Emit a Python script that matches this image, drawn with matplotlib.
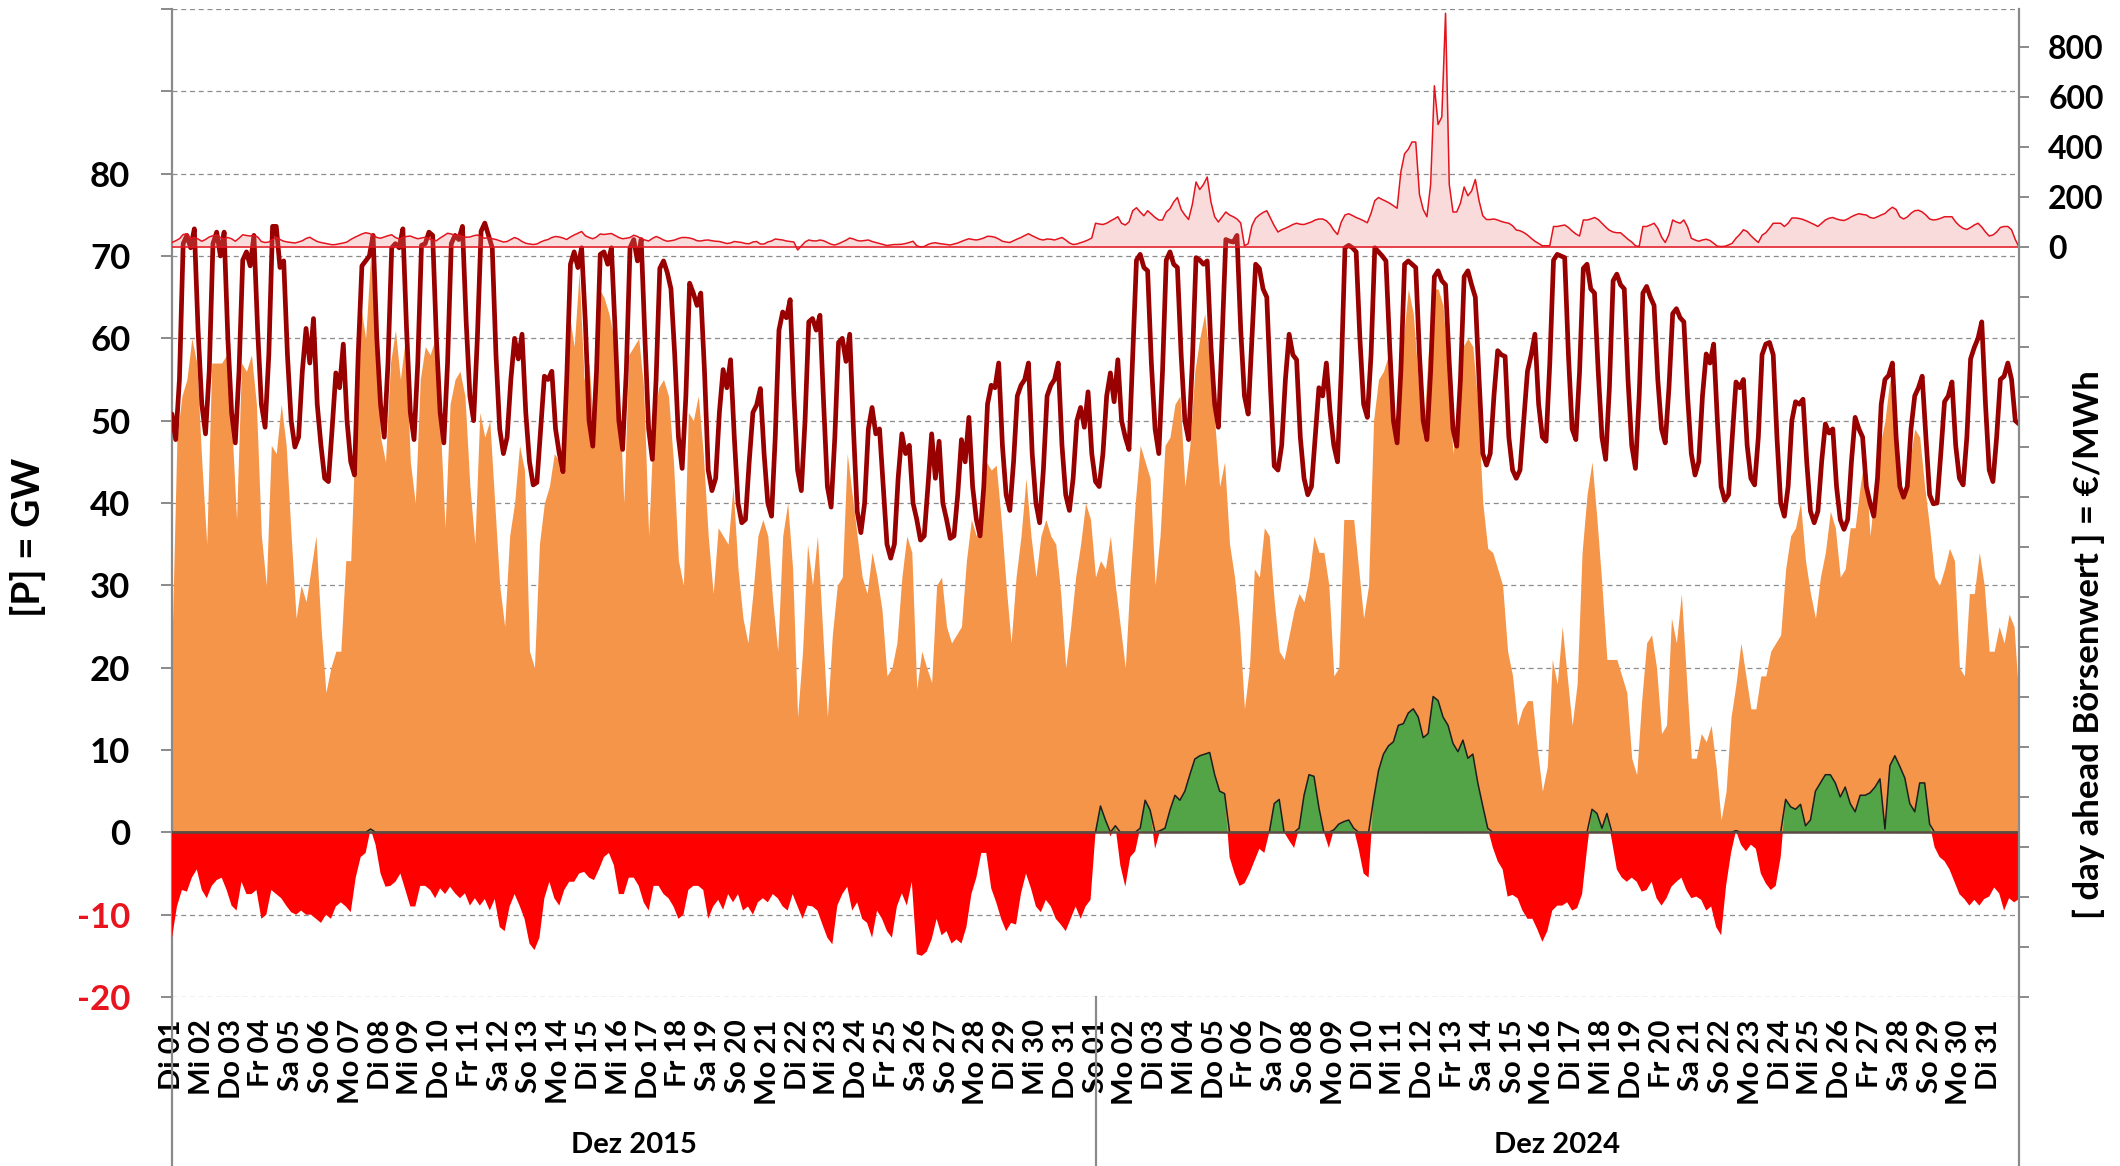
import numpy as np
import matplotlib
matplotlib.use("Agg")
import matplotlib.pyplot as plt
from matplotlib.ticker import FixedLocator, FixedFormatter

plt.rcParams['font.family'] = ['Lato', 'DejaVu Sans']
plt.rcParams['font.weight'] = 'bold'

# ---------------- categories ----------------
months = ['Dez 2015', 'Dez 2024']
days_2015 = ['Di 01', 'Mi 02', 'Do 03', 'Fr 04', 'Sa 05', 'So 06', 'Mo 07', 'Di 08', 'Mi 09', 'Do 10',
             'Fr 11', 'Sa 12', 'So 13', 'Mo 14', 'Di 15', 'Mi 16', 'Do 17', 'Fr 18', 'Sa 19', 'So 20',
             'Mo 21', 'Di 22', 'Mi 23', 'Do 24', 'Fr 25', 'Sa 26', 'So 27', 'Mo 28', 'Di 29', 'Mi 30', 'Do 31']
days_2024 = ['So 01', 'Mo 02', 'Di 03', 'Mi 04', 'Do 05', 'Fr 06', 'Sa 07', 'So 08', 'Mo 09', 'Di 10',
             'Mi 11', 'Do 12', 'Fr 13', 'Sa 14', 'So 15', 'Mo 16', 'Di 17', 'Mi 18', 'Do 19', 'Fr 20',
             'Sa 21', 'So 22', 'Mo 23', 'Di 24', 'Mi 25', 'Do 26', 'Fr 27', 'Sa 28', 'So 29', 'Mo 30', 'Di 31']
day_labels = days_2015 + days_2024

# ---------------- series ----------------
# Last (load) in GW, 3-hourly values per day (00,03,...,21 h) + closing value
load_gw = [
    [50.8, 47.7, 55, 71.5, 72.5, 71, 73.3, 61], [52, 48.4, 56, 71.5, 72.9, 70, 72.9, 60],
    [51, 47.3, 56, 69.5, 70.5, 68.8, 72.5, 61], [52, 49.2, 58, 73.6, 73.6, 68.6, 69.4, 58],
    [50, 46.8, 48, 56, 61.2, 57, 62.4, 52], [47, 43, 42.6, 49, 55.8, 54, 59.3, 50],
    [45, 43.4, 58, 68.8, 69.4, 70, 72.5, 60], [52, 48, 57, 71, 71.5, 71, 73.3, 61],
    [51, 47.7, 57, 71.3, 71.5, 72.9, 72.5, 60], [51, 47.3, 57, 71.5, 72.5, 72, 73.6, 62],
    [53, 50, 60, 73, 74, 72.5, 71, 58], [49, 46, 48, 55, 60, 57.5, 60.5, 51],
    [45, 42.2, 42.5, 49, 55.4, 55, 56, 49], [46, 43.8, 55, 69, 70.5, 68.6, 71, 62],
    [50, 46.9, 56, 70.2, 70.5, 69, 71, 61], [50, 46.5, 56, 71, 72, 69.4, 72, 60],
    [49, 45.3, 55, 68.5, 69.4, 68, 66, 58], [48, 44.2, 53, 66.7, 65.5, 64, 65.5, 56],
    [44, 41.5, 43, 51, 56.2, 54, 57.4, 48], [40, 37.6, 38, 45, 51, 51.9, 53.9, 46],
    [40, 38.4, 48, 61, 63.2, 62.5, 64.7, 53], [44, 41.5, 50, 62, 62.4, 61, 62.8, 52],
    [42, 39.5, 48, 59.5, 60, 57.2, 60.5, 49], [39, 36.4, 40, 49, 51.6, 48.4, 49, 42],
    [35, 33.3, 35, 43, 48.4, 46, 47, 40], [38, 35.5, 36, 42, 48.4, 43, 47.5, 40],
    [38, 35.7, 36, 41, 47.7, 45, 50.4, 42], [38, 36, 42, 52, 54.3, 54, 57, 47],
    [41, 39.1, 45, 53, 54.3, 55, 57, 46], [40, 37.6, 44, 53, 54.3, 55, 57, 47],
    [41, 39.1, 43, 50, 51.6, 49.2, 53.5, 46],
    [42.6, 42, 46, 53, 55.8, 52.3, 57.4, 50], [48, 46.5, 58, 69.5, 70.2, 68.6, 68.2, 57],
    [49, 46, 56, 69.5, 70.5, 69, 68.6, 58], [50, 47.7, 57, 69.8, 69.5, 69, 69.4, 59],
    [52, 49.2, 60, 72, 71.8, 71.7, 72.5, 61], [53, 50.8, 60, 69, 68.5, 66, 65, 54],
    [44.5, 44, 47, 55, 60.5, 58, 57.4, 48], [43, 41, 42, 48, 54, 53, 57, 51],
    [47, 45, 56, 71, 71.3, 71, 70.5, 60], [52, 50.4, 58, 71, 70.5, 70, 69.4, 59],
    [50, 47.3, 56, 69, 69.4, 69, 68.6, 58], [50, 47.7, 56, 67.5, 68.2, 67, 66.5, 57],
    [49, 46.9, 55, 67.5, 68.2, 66.5, 65, 55], [46, 44.6, 46, 53, 58.5, 58, 57.8, 48],
    [44, 43, 44, 50, 56, 58, 60.5, 52], [48, 47.5, 57, 69.5, 70.2, 70, 69.8, 58],
    [49, 47.7, 56, 68.5, 69, 66, 65.5, 56], [48, 45.3, 54, 67, 67.8, 66.5, 66, 55],
    [47, 44.2, 53, 65.5, 66.3, 65, 64, 55], [49, 47.3, 54, 63, 63.6, 62.5, 62, 53],
    [46, 43.4, 45, 53, 58.1, 57, 59.3, 50], [42, 40.3, 41, 48, 54.7, 54, 55, 47],
    [43, 42.2, 48, 58, 59.3, 59.5, 58, 48], [40, 38.4, 42, 50, 52.3, 52, 52.6, 45],
    [39, 37.6, 39, 45, 49.6, 48.5, 49, 42], [38, 36.8, 38, 45, 50.4, 49, 48, 42],
    [40, 38.4, 43, 52, 55, 55.5, 57, 48], [42, 40.7, 42, 49, 53, 54, 55.4, 48],
    [41, 39.9, 40, 46, 52.3, 53, 54.7, 47], [43, 42.2, 48, 57.5, 58.9, 60, 62, 52],
    [44, 42.6, 48, 55, 55.4, 57, 55, 50],
]
load_end = 49.6

# Day-ahead price in EUR/MWh, 3-hourly values per day + closing value
price_eur = [
    [18, 25, 33, 50, 52, 33, 38, 32], [23, 30, 40, 45, 48, 38, 32, 38],
    [33, 23, 35, 49, 46, 44, 47, 40], [22, 18, 20, 30, 39, 30, 23, 20],
    [18, 16, 20, 25, 34, 39, 30, 22], [18, 15, 12, 9, 10, 13, 16, 20],
    [30, 38, 45, 52, 57, 54, 48, 38], [35, 40, 45, 49, 38, 32, 38, 42],
    [44, 38, 33, 36, 39, 33, 28, 25], [36, 45, 55, 52, 46, 48, 42, 39],
    [40, 45, 48, 40, 35, 38, 33, 30], [25, 20, 22, 30, 38, 32, 22, 15],
    [12, 10, 12, 20, 26, 30, 38, 42], [40, 36, 30, 40, 48, 55, 62, 45],
    [38, 33, 40, 52, 50, 52, 54, 46], [38, 33, 35, 38, 47, 42, 33, 28],
    [24, 34, 42, 36, 28, 23, 25, 28], [34, 38, 38, 36, 32, 25, 24, 27],
    [28, 25, 23, 22, 18, 14, 16, 22], [20, 18, 14, 13, 20, 22, 12, 12],
    [20, 24, 32, 30, 28, 24, 22, 20], [-12, 4, 20, 28, 25, 24, 28, 25],
    [18, 11, 8, 13, 20, 27, 36, 32], [26, 24, 26, 28, 22, 18, 14, 10],
    [6, 8, 10, 10, 11, 14, 18, 23], [5, 0, 2, 10, 15, 17, 14, 12],
    [10, 8, 12, 16, 22, 28, 33, 30], [28, 31, 36, 43, 42, 39, 32, 23],
    [20, 18, 25, 32, 38, 46, 53, 45], [38, 31, 28, 32, 31, 28, 33, 38],
    [28, 16, 10, 12, 17, 22, 28, 36],
    [95, 92, 90, 95, 104, 112, 121, 95], [88, 100, 145, 157, 140, 125, 145, 132],
    [118, 108, 108, 140, 153, 180, 198, 150], [128, 110, 170, 260, 230, 250, 280, 180],
    [121, 100, 120, 140, 128, 121, 112, 96], [5, 13, 85, 115, 128, 138, 145, 115],
    [85, 60, 69, 75, 82, 90, 95, 91], [90, 95, 100, 108, 112, 112, 105, 90],
    [67, 50, 100, 128, 133, 126, 118, 112], [105, 97, 135, 185, 198, 190, 183, 175],
    [165, 155, 300, 373, 391, 420, 420, 210], [150, 121, 250, 645, 490, 520, 935, 250],
    [140, 140, 175, 240, 205, 224, 270, 185], [125, 110, 110, 112, 108, 102, 98, 95],
    [85, 68, 65, 58, 48, 35, 23, 14], [5, 5, 5, 82, 82, 85, 88, 78],
    [64, 52, 44, 108, 108, 112, 118, 110], [95, 80, 67, 60, 57, 57, 44, 31],
    [20, 5, 2, 82, 82, 88, 95, 75], [40, 18, 50, 108, 100, 95, 108, 80],
    [35, 28, 23, 28, 31, 26, 15, 3], [2, 3, 8, 15, 35, 50, 69, 62],
    [45, 31, 18, 47, 57, 75, 95, 95], [95, 82, 95, 116, 116, 114, 110, 104],
    [97, 90, 82, 95, 108, 115, 118, 112], [108, 106, 112, 121, 128, 133, 130, 128],
    [118, 115, 121, 128, 134, 148, 159, 150], [121, 112, 120, 135, 145, 147, 140, 128],
    [112, 108, 110, 115, 121, 121, 121, 100], [85, 75, 70, 78, 88, 95, 80, 60],
    [44, 48, 60, 78, 82, 82, 69, 30],
]
price_end = 0

# Wind + solar in GW, 4-hourly values per day (00,04,...,20 h) + closing value
renew_gw = [
    [23, 48, 53, 55, 60, 57], [45, 35, 57, 57, 57, 58], [50, 38, 57, 56, 58, 52],
    [36, 30, 47, 46, 52, 47], [36, 26, 30, 28, 32, 36], [25, 17, 20, 22, 22, 33],
    [33, 50, 64, 60, 70, 62], [48, 45, 57, 61, 55, 60], [45, 40, 55, 59, 58, 60],
    [50, 37, 52, 55, 56, 53], [42, 35, 51, 48, 50, 40], [30, 25, 36, 40, 47, 44],
    [22, 20, 35, 40, 42, 46], [45, 45, 63, 59, 68, 55], [57, 48, 66, 65, 63, 60],
    [54, 40, 58, 59, 60, 54], [36, 50, 54, 55, 53, 45], [33, 30, 51, 50, 53, 46],
    [36, 29, 37, 36, 35, 42], [32, 26, 23, 29, 36, 38], [36, 28, 22, 36, 40, 32],
    [14, 22, 35, 30, 36, 25], [14, 24, 30, 31, 46, 41], [36, 31, 29, 34, 31, 27],
    [19, 20, 23, 31, 36, 34], [17.4, 22, 20, 18.2, 30, 31], [25, 23, 24, 25, 33, 38],
    [36, 38, 45, 44, 44.6, 38], [30, 23, 31, 36, 43, 36], [31, 36, 38, 36, 35, 29],
    [20, 25, 31, 35, 40, 38],
    [31, 33, 32, 36, 30, 25], [20, 31, 40, 47, 45, 43], [30, 36, 47, 48, 52, 53],
    [42, 47, 56, 60, 63, 57], [50, 42, 45, 35, 31, 25], [15, 20, 32, 31, 37, 36],
    [28, 22, 21, 24, 27, 29], [28, 31, 36, 34, 34, 30], [19, 20, 38, 38, 38, 32],
    [26, 30, 50, 55, 56, 58], [50, 51, 60, 66, 63, 55], [48, 58, 66, 66, 64, 56],
    [46, 52, 59, 60, 59, 52], [40, 34.5, 34, 32, 30, 22], [19, 13, 15, 16, 16, 10],
    [5, 8, 21, 18, 25, 19], [13, 18, 34, 41, 45, 38], [30, 21, 21, 21, 19, 17],
    [9, 7, 16, 23, 24, 20], [12, 13, 26, 23, 29, 19], [9, 9, 12, 11, 13, 8],
    [1.5, 5, 14, 18, 23, 19], [15, 15, 19, 19, 22, 23], [24, 32, 36, 37, 40, 33],
    [29, 26, 31, 34, 39, 37], [31, 32, 37, 37, 42, 46], [36, 42, 47, 50, 55, 50],
    [42, 41, 45, 49, 48, 42], [37, 31, 30, 32, 34.5, 33], [20, 19, 29, 29, 34, 30],
    [22, 22, 25, 23, 26.5, 25],
]
renew_end = 16

# Export (+) / import (-) balance in GW, 4-hourly values per day + closing value
balance_gw = [
    [-12.8, -9, -7, -7.2, -5.5, -4.5], [-7, -8, -6.5, -5.8, -5.5, -7], [-8.9, -9.5, -6, -7.5, -7.5, -7],
    [-10.5, -10, -7, -7.5, -8, -8.9], [-9.7, -10, -9.5, -10, -10, -10.5], [-11, -10, -10.5, -9, -8.5, -9],
    [-9.7, -5.5, -3, -2.5, 0.4, -1.5], [-5, -6.6, -6.5, -6, -5, -7], [-9, -9, -6.5, -6.5, -7, -8],
    [-6.8, -7.5, -6.6, -7.4, -8, -7.4], [-8.9, -8, -8.9, -8.1, -9.5, -8.1], [-11.5, -12, -9, -7.5, -8.9, -10.5],
    [-13.5, -14.3, -12.8, -8, -6, -8], [-8.9, -7, -6, -6, -5, -4.8], [-5.5, -5.8, -4.5, -3, -2.5, -4],
    [-7.5, -7.5, -5.5, -5.5, -6.5, -8.5], [-9.5, -6.5, -6.5, -7.5, -8, -9], [-10.5, -10, -7, -6.5, -6.5, -7],
    [-10.5, -9, -8.2, -9.4, -7.5, -8.5], [-7.5, -9.5, -9, -10, -8.5, -8], [-8.5, -7.5, -8, -9, -9.5, -7.5],
    [-9, -10.5, -8.9, -9, -9.5, -11.2], [-12.8, -13.6, -8.9, -7.5, -6.6, -9.5], [-8.5, -10.5, -11, -12.8, -9.5, -10.5],
    [-12, -12.8, -9, -7.4, -8.9, -6], [-14.8, -15, -14.5, -13, -10.5, -12.5], [-12, -13.5, -13, -13.5, -11.5, -7.5],
    [-5.5, -2.5, -2.5, -6.8, -8.5, -10.5], [-12, -11, -11.2, -7.4, -5, -6.8], [-9, -9.7, -8.2, -9, -10.5, -11.2],
    [-12, -10.5, -9, -10.5, -9, -8.2],
    [0, 3.2, 1.5, -0.5, 0.8, -4], [-6.6, -3, -2.3, 0.5, 3.9, 2.7], [-2, 0.2, 0.5, 2.7, 4.5, 3.9],
    [5, 7, 8.9, 9.3, 9.5, 9.7], [7, 5, 4.7, -3, -5, -6.5], [-6.2, -5, -3.5, -2, -2.5, 0],
    [3.5, 4, 0, -1, -1.9, 0.5], [4.5, 7, 6.8, 3, 0, -1.9], [0.3, 1, 1.3, 1.5, 0.5, -2],
    [-5, -5.5, 4, 7.5, 9.5, 10.5], [11, 13, 13.2, 14.5, 15, 14], [11.5, 12, 16.5, 16, 14, 13],
    [10.8, 9.8, 11.2, 9, 9.5, 6], [3.2, 0.5, -1.8, -3.5, -4.5, -7.8], [-7.6, -8, -9.5, -10.5, -10.5, -11.8],
    [-13.3, -12, -9.5, -8.9, -8.9, -8.5], [-9.5, -9.2, -7.5, -2, 2.8, 2.3], [0.5, 2.3, -1, -4.5, -5.5, -6],
    [-5.5, -6, -7.2, -7, -6, -8], [-8.9, -8, -6.6, -6, -5.5, -7], [-8, -7.8, -8.2, -9.5, -9, -11.5],
    [-12.5, -6.5, -2.5, 0.2, -1.5, -2.3], [-1.5, -2, -5, -6.2, -7, -6.5], [-3, 4, 3.1, 2.8, 3.4, 0.8],
    [1.5, 5, 6, 7, 7, 6], [4.3, 5.5, 3.5, 2.5, 4.5, 4.5], [4.8, 5.5, 6.5, 0.4, 8.1, 9.3],
    [8, 6.6, 3.5, 2.5, 6, 6], [1, -1.8, -3, -3.5, -4.5, -6], [-7.5, -8.1, -8.9, -8.2, -8.9, -8.1],
    [-7.8, -6.7, -7.4, -9.5, -8, -8.5],
]
balance_end = -8.1

# axis ticks
gw_ticks = list(range(-20, 101, 10))
gw_labels = ['-20', '-10', '0', '10', '20', '30', '40', '50', '60', '70', '80', '', '']
eur_ticks = list(range(-3000, 801, 200))
eur_labels = ['0', '200', '400', '600', '800']

# ---------------- derived arrays ----------------
load = np.array([v for d in load_gw for v in d] + [load_end])
price = np.array([v for d in price_eur for v in d] + [price_end])
renew = np.array([v for d in renew_gw for v in d] + [renew_end])
bal = np.array([v for d in balance_gw for v in d] + [balance_end])
t3 = np.arange(len(load)) * 3.0
t4 = np.arange(len(renew)) * 4.0
n_days = len(day_labels)
t_end = n_days * 24.0
t_split = len(days_2015) * 24.0

# ---------------- figure ----------------
W, H = 2120, 1166
fig = plt.figure(figsize=(W / 100, H / 100), dpi=100)
L, R, B, T = 172, 2019, 997, 9
ax = fig.add_axes([L / W, 1 - B / H, (R - L) / W, (B - T) / H])

ORANGE = '#F5954A'
GREEN = '#52A447'
RED = '#FF0000'
LOADC = '#990000'
PRICEC = '#E3141E'
SPINE = '#8A8A8A'

ax.fill_between(t4, 0, renew, color=ORANGE, lw=0, zorder=2)
ax.fill_between(t4, 0, bal, where=bal >= 0, interpolate=True, color=GREEN, lw=0, zorder=3)
ax.fill_between(t4, 0, bal, where=bal <= 0, interpolate=True, color=RED, lw=0, zorder=3)
ax.plot(t4, np.maximum(bal, 0), color='#1E1E1E', lw=1.1, zorder=4)
ax.axhline(0, color='#5C4A44', lw=1.8, zorder=4)
ax.plot(t3, load, color=LOADC, lw=3.4, zorder=5, solid_joinstyle='round', solid_capstyle='round')

ax.set_xlim(0, t_end)
ax.set_ylim(-20, 100)
ax.set_axisbelow(True)
ax.yaxis.set_major_locator(FixedLocator(gw_ticks))
ax.yaxis.set_major_formatter(FixedFormatter(gw_labels))
ax.yaxis.grid(True, linestyle=(0, (4, 3)), color='#8C8C8C', lw=0.9)
ax.tick_params(axis='y', length=8, width=1.4, color=SPINE, pad=22, labelsize=25)
for lbl, v in zip(ax.get_yticklabels(), gw_ticks):
    lbl.set_color('#E8141E' if v < 0 else 'black')
    lbl.set_fontweight('bold')

ax.set_xticks(np.arange(n_days) * 24.0)
ax.set_xticklabels(day_labels, rotation=90, fontsize=21, fontweight='bold')
ax.tick_params(axis='x', length=0, pad=16)

for s in ['top', 'bottom', 'right']:
    ax.spines[s].set_visible(False)
ax.spines['left'].set_color(SPINE)
ax.spines['left'].set_linewidth(1.6)

# category separators below the plot
ext = -(H - B) / (B - T)
for xv in [0.0, t_split, t_end]:
    ax.plot([xv, xv], [0, ext], transform=ax.get_xaxis_transform(), color=SPINE, lw=1.6,
            clip_on=False, zorder=6)

# month labels
ax.text(t_split / 2, -(1145 - B) / (B - T), months[0], transform=ax.get_xaxis_transform(),
        ha='center', va='center', fontsize=21, fontweight='bold')
ax.text((t_split + t_end) / 2, -(1145 - B) / (B - T), months[1], transform=ax.get_xaxis_transform(),
        ha='center', va='center', fontsize=21, fontweight='bold')

# price axis
ax2 = ax.twinx()
ax2.fill_between(t3, 0, price, color='#F08080', alpha=0.28, lw=0)
ax2.plot(t3, price, color=PRICEC, lw=1.1)
ax2.axhline(0, color=PRICEC, lw=1.1)
ax2.set_ylim(-3000, 952)
ax2.set_xlim(0, t_end)
ax2.yaxis.set_major_locator(FixedLocator(eur_ticks))
ax2.yaxis.set_major_formatter(FixedFormatter([''] * (len(eur_ticks) - len(eur_labels)) + eur_labels))
ax2.tick_params(axis='y', length=7, width=1.4, color=SPINE, pad=14, labelsize=23)
for lbl in ax2.get_yticklabels():
    lbl.set_fontweight('bold')
for s in ['top', 'bottom', 'left']:
    ax2.spines[s].set_visible(False)
ax2.spines['right'].set_color(SPINE)
ax2.spines['right'].set_linewidth(1.6)

fig.text(28 / W, 1 - 537 / H, '[P] = GW', rotation=90, ha='center', va='center',
         fontsize=28, fontweight='bold')
fig.text(2089 / W, 1 - 645 / H, '[ day ahead Börsenwert ] = €/MWh', rotation=90, ha='center',
         va='center', fontsize=25, fontweight='bold')

fig.savefig('out.png', dpi=100, facecolor='white')
